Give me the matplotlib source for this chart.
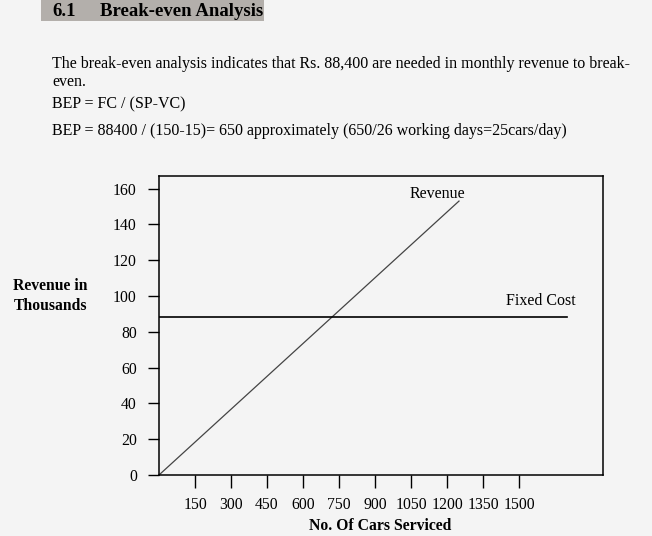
import matplotlib.pyplot as plt
from matplotlib.patches import Rectangle

plt.rcParams['font.family'] = ['Liberation Serif', 'DejaVu Serif']

# chart data
cars = [0, 1250]
revenue = [0, 153]
fixed_cost_x = [0, 1700]
fixed_cost = [88.4, 88.4]
x_ticks = [150, 300, 450, 600, 750, 900, 1050, 1200, 1350, 1500]
y_ticks = [0, 20, 40, 60, 80, 100, 120, 140, 160]

W, H = 652, 536
BG = '#f4f4f4'

fig = plt.figure(figsize=(W / 100, H / 100), dpi=100, facecolor=BG)


def fx(px):
    return px / W


def fy(py):
    return 1 - py / H


# heading with grey highlight
fig.patches.append(Rectangle((fx(41), fy(21)), fx(264) - fx(41), fy(0) - fy(21),
                             transform=fig.transFigure, facecolor='#b3afab',
                             edgecolor='none', zorder=0))
fig.text(fx(52), fy(11), '6.1', fontsize=13.5, fontweight='bold', va='center')
fig.text(fx(100), fy(11), 'Break-even Analysis', fontsize=13.5, fontweight='bold', va='center')

body = [
    (64, 'The break-even analysis indicates that Rs. 88,400 are needed in monthly revenue to break-'),
    (82, 'even.'),
    (104, 'BEP = FC / (SP-VC)'),
    (131, 'BEP = 88400 / (150-15)= 650 approximately (650/26 working days=25cars/day)'),
]
for y, s in body:
    fig.text(fx(52), fy(y), s, fontsize=11.5, va='center')

# chart area
ax = fig.add_axes([fx(159), fy(475), fx(603) - fx(159), fy(176) - fy(475)])
ax.set_facecolor(BG)
ax.plot(cars, revenue, color='#444444', lw=0.9)
ax.plot(fixed_cost_x, fixed_cost, color='black', lw=1.2)
ax.set_xlim(0, 1850)
ax.set_ylim(0, 167)
ax.set_xticks(x_ticks)
ax.set_yticks(y_ticks)
ax.tick_params(axis='x', direction='out', length=9.5, width=1, pad=6, labelsize=11.3)
ax.tick_params(axis='y', direction='out', length=8, width=1, pad=8, labelsize=11.3)
for sp in ax.spines.values():
    sp.set_linewidth(1.1)

ax.text(1160, 157, 'Revenue', fontsize=11.5, ha='center', va='center')
ax.text(1590, 97, 'Fixed Cost', fontsize=11.5, ha='center', va='center')

fig.text(fx(50), fy(296), 'Revenue in\nThousands', fontsize=11.3, fontweight='bold',
         ha='center', va='center', linespacing=1.3)
fig.text(fx(380), fy(526), 'No. Of Cars Serviced', fontsize=11.3, fontweight='bold',
         ha='center', va='center')

fig.savefig('out.png', dpi=100, facecolor=BG)
